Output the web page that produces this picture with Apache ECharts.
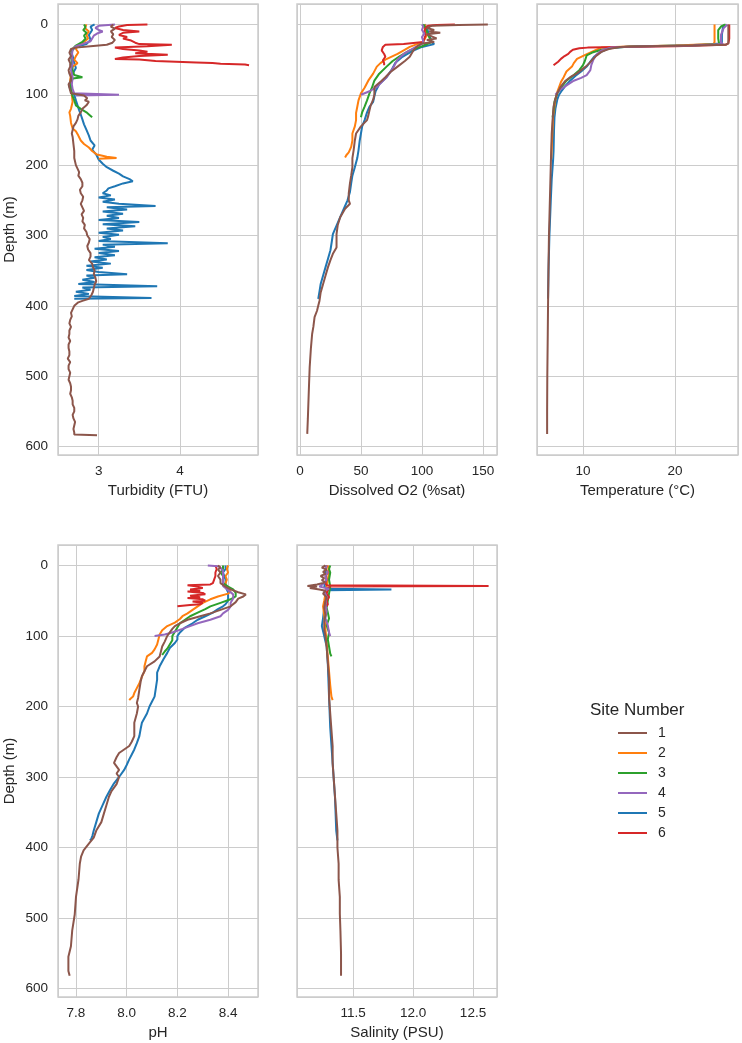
<!DOCTYPE html>
<html>
<head>
<meta charset="utf-8">
<script src="https://cdn.jsdelivr.net/npm/echarts@6/dist/echarts.min.js"></script>
<style>
  html, body { margin: 0; padding: 0; background: #ffffff; }
  #chart { width: 742px; height: 1043px; }
</style>
</head>
<body>
<div id="chart"></div>
<script>
// ---------- DATA: [depth (m), value] ----------
const sites = ['1', '2', '3', '4', '5', '6'];
const depthTicks = [0, 100, 200, 300, 400, 500, 600];

// Turbidity (FTU)
const turb1 = [[0,3.18],[3,3.15],[6,3.2],[10,3.15],[14,3.18],[18,3.16],[22,3.2],[26,3.17],[29,3.1],[31,2.9],[33,2.72],[35,2.66],[40,2.64],[45,2.66],[50,2.63],[55,2.65],[60,2.65],[65,2.63],[70,2.64],[75,2.66],[80,2.66],[85,2.63],[90,2.64],[98,2.66],[101,2.82],[105,2.86],[108,2.83],[110,2.88],[115,2.85],[120,2.8],[125,2.78],[130,2.75],[135,2.74],[140,2.72],[145,2.69],[150,2.68],[155,2.67],[160,2.68],[170,2.69],[180,2.7],[190,2.7],[200,2.72],[205,2.74],[210,2.76],[215,2.75],[220,2.78],[225,2.8],[230,2.8],[235,2.77],[240,2.78],[245,2.81],[250,2.8],[255,2.78],[260,2.8],[265,2.82],[270,2.79],[275,2.81],[280,2.8],[285,2.83],[290,2.82],[295,2.85],[300,2.86],[305,2.89],[310,2.88],[315,2.86],[320,2.87],[325,2.9],[330,2.9],[335,2.88],[340,2.92],[345,2.93],[350,2.95],[355,2.94],[360,2.96],[365,2.97],[370,2.95],[375,2.94],[380,2.93],[385,2.91],[390,2.88],[393,2.8],[395,2.75],[400,2.7],[405,2.68],[410,2.66],[415,2.67],[420,2.65],[425,2.64],[430,2.66],[435,2.64],[440,2.64],[445,2.63],[450,2.65],[455,2.63],[460,2.63],[465,2.64],[470,2.64],[475,2.62],[480,2.65],[485,2.63],[490,2.63],[495,2.65],[500,2.64],[505,2.63],[510,2.65],[515,2.66],[520,2.66],[525,2.65],[530,2.67],[535,2.68],[540,2.68],[545,2.7],[550,2.7],[555,2.68],[560,2.69],[565,2.71],[570,2.7],[575,2.69],[580,2.7],[583,2.7],[584,2.98]];
const turb2 = [[0,2.85],[5,2.83],[10,2.88],[15,2.85],[20,2.87],[25,2.82],[30,2.75],[35,2.72],[40,2.75],[45,2.72],[50,2.7],[55,2.74],[60,2.68],[70,2.66],[80,2.65],[90,2.66],[100,2.67],[110,2.68],[120,2.66],[125,2.64],[130,2.65],[140,2.66],[148,2.68],[152,2.72],[158,2.75],[165,2.78],[170,2.82],[175,2.88],[180,2.92],[185,2.98],[188,3.1],[190,3.22],[191,3.0]];
const turb3 = [[0,2.82],[4,2.84],[8,2.81],[12,2.85],[16,2.82],[20,2.84],[25,2.8],[30,2.72],[35,2.68],[45,2.66],[55,2.67],[65,2.68],[72,2.7],[75,2.8],[77,2.68],[85,2.66],[95,2.66],[102,2.68],[108,2.7],[115,2.72],[120,2.78],[125,2.85],[128,2.88],[132,2.92]];
const turb4 = [[0,3.2],[2,3.0],[5,2.96],[8,3.0],[10,3.05],[13,2.98],[16,2.94],[20,2.92],[24,2.9],[28,2.8],[31,2.72],[35,2.68],[45,2.67],[55,2.68],[65,2.66],[75,2.68],[85,2.67],[92,2.68],[98,2.7],[100,3.25],[101,2.72]];
const turb5 = [[0,2.95],[3,2.9],[8,2.92],[15,2.88],[22,2.9],[28,2.85],[32,2.72],[38,2.66],[45,2.68],[55,2.7],[62,2.72],[70,2.68],[80,2.65],[88,2.64],[95,2.66],[100,2.7],[108,2.72],[115,2.74],[122,2.76],[128,2.78],[135,2.8],[142,2.82],[150,2.85],[158,2.88],[165,2.9],[172,2.95],[178,2.92],[185,2.97],[192,3.0],[198,3.05],[203,3.1],[208,3.18],[212,3.25],[216,3.3],[220,3.38],[223,3.42],[226,3.3],[230,3.2],[233,3.12],[236,3.1],[240,3.05],[243,3.15],[246,3.0],[249,3.2],[252,3.05],[255,3.25],[258,3.7],[260,3.1],[263,3.35],[266,3.05],[269,3.3],[272,3.1],[275,3.25],[278,3.0],[281,3.5],[284,3.05],[287,3.45],[290,3.1],[293,3.3],[296,3.0],[299,3.25],[302,3.05],[305,3.15],[308,3.0],[311,3.85],[313,3.05],[316,3.2],[319,2.95],[322,3.25],[325,3.0],[328,3.2],[331,2.95],[334,3.1],[337,2.9],[340,3.15],[343,2.85],[346,3.05],[349,2.85],[352,3.0],[355,3.35],[357,2.85],[360,2.95],[363,2.8],[366,2.95],[369,2.75],[372,3.72],[374,2.8],[377,2.9],[380,2.72],[383,2.88],[386,2.7],[389,3.65],[390,2.7]];
const turb6 = [[0,3.6],[1,3.35],[3,3.25],[5,3.2],[8,3.3],[10,3.5],[12,3.3],[15,3.25],[18,3.35],[20,3.3],[23,3.4],[26,3.45],[28,3.5],[29,3.9],[31,3.6],[33,3.2],[35,3.3],[37,3.5],[39,3.6],[41,3.45],[43,3.85],[45,3.5],[47,3.3],[49,3.2],[50,3.5],[52,3.7],[54,4.2],[55,4.4],[56,4.5],[57,4.8],[58,4.85]];

// Dissolved O2 (%sat)
const oxy1 = [[0,154],[1,130],[2,108],[5,104],[8,110],[10,106],[12,115],[14,104],[17,108],[20,112],[22,104],[25,110],[27,100],[30,97],[35,94],[40,92],[46,90],[52,86],[60,80],[68,74],[75,70],[80,67],[89,61],[100,61],[107,60],[115,58],[122,57],[130,56],[136,55],[145,50],[155,46],[165,45],[179,44],[190,43],[203,43],[215,42],[226,41],[240,40],[250,40],[255,41],[262,37],[274,33],[285,31],[298,30],[310,30],[317,30],[326,27],[335,25],[345,23],[357,21],[369,19],[381,17],[393,16],[400,15],[407,14],[416,12],[430,11],[440,10],[460,9],[487,8],[510,7.5],[535,7],[560,6.5],[582,6]];
const oxy2 = [[0,103],[5,102],[15,104],[25,101],[28,96],[32,90],[38,84],[42,80],[50,70],[55,66],[60,63],[70,60],[80,56],[90,53],[98,50],[108,48],[117,47],[126,46],[136,46],[145,45],[155,43],[165,43],[174,42],[182,40],[186,38],[189,37]];
const oxy3 = [[0,101],[5,103],[15,105],[25,108],[27,109],[31,100],[37,90],[45,82],[52,76],[60,71],[70,65],[80,61],[90,59],[98,57],[108,55],[117,53],[125,51],[132,50]];
const oxy4 = [[0,100],[3,101],[8,100],[13,102],[18,100],[23,101],[27,101],[32,95],[37,90],[42,85],[50,80],[60,77],[68,74],[75,71],[82,67],[89,63],[95,57],[100,50]];
const oxy5 = [[0,102],[5,104],[15,106],[25,108],[28,110],[32,100],[38,92],[46,84],[55,78],[65,75],[75,71],[85,65],[95,62],[102,61],[110,60],[117,57],[125,55],[136,53],[145,51],[155,50],[165,49],[179,48],[190,47],[203,45],[215,43],[226,42],[238,41],[250,39],[262,36],[274,33],[286,30],[298,27],[310,26],[321,25],[333,23],[345,21],[357,19],[369,17],[380,16],[390,15]];
const oxy6 = [[0,127],[1,112],[2,105],[5,103],[10,102],[15,103],[20,102],[25,101],[27,100],[28,85],[29,70],[32,68],[37,67],[42,69],[46,70],[51,68],[55,69],[58,69]];

// Temperature (°C)
const temp1 = [[0,25.8],[10,25.8],[20,25.8],[27,25.8],[29,25.5],[30,22],[31,17],[32,14],[35,12.8],[39,12],[44,11.5],[49,11.1],[55,10.7],[60,10.3],[65,9.8],[70,9.3],[75,8.6],[80,8.1],[88,7.6],[98,7.2],[108,6.95],[117,6.8],[135,6.7],[155,6.6],[200,6.5],[250,6.4],[300,6.3],[345,6.25],[400,6.2],[440,6.17],[500,6.12],[550,6.1],[582,6.1]];
const temp2 = [[0,24.3],[5,24.3],[15,24.3],[25,24.3],[28,24.2],[30,20],[31.5,15],[33,12],[37,11.3],[43,10.3],[49,9.35],[55,9.0],[60,8.8],[67,8.2],[75,7.9],[82,7.6],[89,7.4],[98,7.15],[107,7.0],[131,6.75],[160,6.65],[191,6.55]];
const temp3 = [[0,25.5],[3,25.0],[8,24.7],[20,24.7],[28,24.8],[30,22],[31,16],[33,13.5],[36,12],[40,11],[44,10.4],[52,10.2],[58,10.0],[65,9.6],[72,9.0],[80,8.2],[90,7.6],[98,7.2],[110,6.9],[132,6.7]];
const temp4 = [[0,25.7],[5,25.3],[15,25.0],[25,25.0],[28,25.2],[30,22],[31.5,16],[33,13],[37,12],[44,11.4],[51,11.1],[58,10.9],[65,10.8],[72,10.4],[76,9.8],[80,9.0],[86,8.3],[92,7.6],[97,7.2],[100,7.0]];
const temp5 = [[0,25.4],[5,25.2],[15,25.1],[27,25.1],[29,24.9],[30,21],[31.5,15],[34,12.8],[40,11.8],[46,11.2],[53,10.8],[60,10.4],[67,9.8],[73,9.2],[80,8.6],[87,8.1],[94,7.7],[100,7.4],[107,7.2],[120,7.0],[132,6.9],[150,6.85],[180,6.8],[193,6.75],[220,6.6],[250,6.5],[300,6.35],[350,6.25],[390,6.2]];
const temp6 = [[0,25.9],[10,25.9],[20,25.9],[27,25.8],[29,25.5],[31,20],[32,14],[33,10.5],[34,9.6],[36,8.9],[39,8.6],[42,8.4],[45,8.0],[49,7.6],[53,7.3],[57,6.9],[58,6.8]];

// pH
const ph1 = [[0,8.36],[3,8.37],[6,8.36],[10,8.37],[15,8.36],[20,8.37],[25,8.37],[30,8.39],[34,8.41],[38,8.44],[41,8.47],[44,8.46],[47,8.44],[52,8.43],[58,8.41],[63,8.37],[68,8.33],[72,8.29],[77,8.24],[82,8.21],[86,8.19],[90,8.18],[95,8.17],[100,8.16],[108,8.15],[115,8.14],[122,8.135],[129,8.13],[136,8.11],[143,8.08],[150,8.07],[157,8.06],[165,8.055],[176,8.05],[188,8.045],[195,8.04],[200,8.045],[210,8.04],[223,8.03],[233,8.03],[242,8.03],[250,8.02],[256,8.01],[261,7.99],[266,7.97],[272,7.96],[280,7.95],[285,7.96],[290,7.97],[295,7.96],[300,7.97],[310,7.96],[320,7.94],[328,7.93],[340,7.92],[352,7.91],[364,7.9],[376,7.88],[386,7.87],[395,7.85],[404,7.83],[413,7.82],[423,7.815],[445,7.81],[470,7.8],[495,7.795],[518,7.785],[540,7.78],[555,7.77],[565,7.77],[575,7.77],[582,7.775]];
const ph2 = [[0,8.4],[5,8.395],[10,8.4],[15,8.39],[20,8.395],[25,8.39],[30,8.39],[34,8.4],[37,8.41],[40,8.4],[44,8.36],[48,8.33],[53,8.3],[58,8.28],[63,8.26],[68,8.24],[72,8.22],[76,8.21],[81,8.19],[86,8.16],[92,8.14],[98,8.13],[105,8.125],[112,8.12],[119,8.11],[124,8.1],[129,8.08],[136,8.075],[143,8.07],[150,8.07],[158,8.06],[167,8.05],[174,8.04],[181,8.03],[186,8.025],[189,8.015],[191,8.01]];
const ph3 = [[0,8.38],[5,8.38],[10,8.37],[15,8.38],[20,8.38],[25,8.38],[30,8.4],[34,8.42],[39,8.43],[44,8.43],[48,8.41],[53,8.37],[58,8.33],[62,8.31],[67,8.28],[72,8.25],[77,8.23],[82,8.21],[88,8.2],[94,8.19],[100,8.18],[106,8.18],[112,8.17],[118,8.16],[122,8.15],[127,8.14]];
const ph4 = [[0,8.32],[1,8.36],[3,8.37],[8,8.38],[15,8.38],[22,8.38],[29,8.38],[35,8.4],[41,8.42],[47,8.42],[53,8.41],[58,8.41],[63,8.4],[68,8.38],[72,8.37],[77,8.33],[82,8.28],[86,8.25],[90,8.22],[95,8.18],[98,8.15],[100,8.11]];
const ph5 = [[0,8.39],[5,8.39],[10,8.38],[20,8.39],[30,8.39],[38,8.4],[44,8.4],[50,8.4],[55,8.39],[58,8.38],[62,8.36],[67,8.34],[72,8.31],[77,8.28],[82,8.26],[88,8.23],[95,8.21],[100,8.2],[105,8.2],[110,8.19],[117,8.17],[124,8.16],[133,8.145],[143,8.13],[152,8.12],[162,8.12],[174,8.115],[186,8.11],[193,8.1],[200,8.09],[210,8.08],[223,8.06],[232,8.055],[242,8.05],[252,8.04],[261,8.03],[268,8.02],[275,8.01],[283,8.0],[290,7.99],[300,7.97],[309,7.95],[318,7.935],[328,7.92],[340,7.905],[352,7.89],[364,7.88],[376,7.87],[383,7.865],[388,7.86],[390,7.855]];
const ph6 = [[0,8.35],[5,8.355],[10,8.35],[15,8.35],[20,8.345],[25,8.34],[27,8.33],[28,8.24],[30,8.28],[32,8.3],[34,8.25],[36,8.29],[37,8.24],[39,8.3],[41,8.31],[43,8.25],[45,8.29],[46,8.24],[48,8.3],[50,8.31],[51,8.26],[53,8.3],[55,8.29],[56,8.25],[57,8.22],[58,8.2]];

// Salinity (PSU)
const sal1 = [[0,11.27],[3,11.24],[6,11.28],[9,11.25],[12,11.27],[15,11.23],[18,11.26],[21,11.24],[24,11.27],[27,11.2],[29,11.12],[30,11.2],[32,11.14],[34,11.22],[36,11.27],[40,11.25],[45,11.28],[50,11.27],[60,11.26],[70,11.27],[80,11.26],[91,11.26],[100,11.27],[115,11.28],[138,11.29],[160,11.3],[186,11.3],[210,11.31],[233,11.32],[256,11.33],[280,11.33],[304,11.34],[328,11.35],[352,11.36],[376,11.37],[400,11.37],[423,11.38],[446,11.38],[470,11.39],[494,11.39],[518,11.395],[550,11.4],[582,11.4]];
const sal2 = [[0,11.29],[10,11.3],[20,11.29],[30,11.28],[40,11.27],[50,11.26],[58,11.25],[70,11.26],[90,11.27],[110,11.28],[130,11.29],[150,11.3],[170,11.31],[186,11.32],[191,11.33]];
const sal3 = [[0,11.31],[5,11.3],[10,11.31],[20,11.3],[30,11.31],[40,11.3],[50,11.29],[60,11.28],[67,11.29],[75,11.3],[85,11.28],[95,11.3],[105,11.29],[115,11.3],[125,11.31],[129,11.32]];
const sal4 = [[0,11.28],[5,11.27],[10,11.29],[15,11.27],[20,11.28],[25,11.26],[30,11.22],[33,11.3],[36,11.26],[45,11.28],[55,11.27],[65,11.28],[75,11.27],[85,11.29],[95,11.3],[100,11.31]];
const sal5 = [[0,11.28],[10,11.27],[20,11.28],[30,11.26],[33,11.3],[34,11.82],[35,11.28],[45,11.27],[60,11.26],[75,11.25],[86,11.24],[100,11.26],[115,11.28],[140,11.29],[186,11.3],[230,11.31],[280,11.33],[330,11.35],[376,11.36],[390,11.37]];
const sal6 = [[0,11.28],[5,11.27],[10,11.29],[15,11.27],[20,11.28],[25,11.27],[28,11.28],[29,12.63],[30,11.3],[35,11.29],[40,11.28],[45,11.3],[50,11.28],[55,11.29],[58,11.28]];

// ---------- CHART ----------
const siteColors = { '1': '#8c564b', '2': '#ff7f0e', '3': '#2ca02c', '4': '#9467bd', '5': '#1f77b4', '6': '#d62728' };
const drawOrder = ['5', '2', '3', '6', '4', '1'];
const FONT = '"Liberation Sans", Arial, sans-serif';
const TXT = '#262626';

const panels = [
  { name: 'Turbidity (FTU)', data: { '1': turb1, '2': turb2, '3': turb3, '4': turb4, '5': turb5, '6': turb6 }, min: 2.5, max: 4.96, step: 1, dec: 0, grid: { left: 58, top: 4, width: 200, height: 451 }, yLabels: true },
  { name: 'Dissolved O2 (%sat)', data: { '1': oxy1, '2': oxy2, '3': oxy3, '4': oxy4, '5': oxy5, '6': oxy6 }, min: -2.4, max: 161.5, step: 50, dec: 0, grid: { left: 297, top: 4, width: 200, height: 451 }, yLabels: false },
  { name: 'Temperature (°C)', data: { '1': temp1, '2': temp2, '3': temp3, '4': temp4, '5': temp5, '6': temp6 }, min: 5.0, max: 26.85, step: 10, dec: 0, grid: { left: 537, top: 4, width: 201, height: 451 }, yLabels: false },
  { name: 'pH', data: { '1': ph1, '2': ph2, '3': ph3, '4': ph4, '5': ph5, '6': ph6 }, min: 7.729, max: 8.518, step: 0.2, dec: 1, grid: { left: 58, top: 545, width: 200, height: 452 }, yLabels: true },
  { name: 'Salinity (PSU)', data: { '1': sal1, '2': sal2, '3': sal3, '4': sal4, '5': sal5, '6': sal6 }, min: 11.033, max: 12.70, step: 0.5, dec: 1, grid: { left: 297, top: 545, width: 200, height: 452 }, yLabels: false }
];

const grids = [], xAxes = [], yAxes = [], series = [];
panels.forEach((p, i) => {
  grids.push(Object.assign({ show: true, borderColor: '#cccccc', borderWidth: 1.5, backgroundColor: 'transparent' }, p.grid));
  xAxes.push({
    type: 'value', gridIndex: i, min: p.min, max: p.max,
    minInterval: p.step, maxInterval: p.step, splitNumber: 3,
    name: p.name, nameLocation: 'middle', nameGap: 28,
    nameTextStyle: { color: TXT, fontSize: 15, fontFamily: FONT },
    axisLine: { show: false }, axisTick: { show: false },
    axisLabel: { color: TXT, fontSize: 13.5, fontFamily: FONT, margin: 9, showMinLabel: false, showMaxLabel: false,
      formatter: v => (Math.abs(v / p.step - Math.round(v / p.step)) < 1e-6 ? v.toFixed(p.dec) : '') },
    splitLine: { show: true, lineStyle: { color: '#cccccc', width: 1 } }
  });
  yAxes.push({
    type: 'value', gridIndex: i, inverse: true, min: -29, max: 612,
    minInterval: 100, maxInterval: 100, splitNumber: 6,
    name: p.yLabels ? 'Depth (m)' : '', nameLocation: 'middle', nameGap: 41,
    nameTextStyle: { color: TXT, fontSize: 15, fontFamily: FONT },
    axisLine: { show: false }, axisTick: { show: false },
    axisLabel: { show: p.yLabels, color: TXT, fontSize: 13.5, fontFamily: FONT, margin: 10, showMinLabel: false, showMaxLabel: false,
      formatter: v => (depthTicks.indexOf(v) >= 0 ? String(v) : '') },
    splitLine: { show: true, lineStyle: { color: '#cccccc', width: 1 } }
  });
  drawOrder.forEach(s => {
    series.push({
      type: 'line', name: s, xAxisIndex: i, yAxisIndex: i,
      data: p.data[s].map(d => [d[1], d[0]]),
      showSymbol: false, symbol: 'none', clip: true,
      lineStyle: { color: siteColors[s], width: 2 },
      itemStyle: { color: siteColors[s] },
      emphasis: { disabled: true }
    });
  });
});

const chart = echarts.init(document.getElementById('chart'), null, { renderer: 'canvas' });
chart.setOption({
  animation: false,
  backgroundColor: '#ffffff',
  grid: grids, xAxis: xAxes, yAxis: yAxes, series: series,
  legend: {
    data: sites.map(s => ({ name: s, icon: 'rect', itemStyle: { color: siteColors[s] } })),
    orient: 'vertical', left: 613, top: 721,
    itemWidth: 29, itemHeight: 2, itemGap: 6,
    textStyle: { color: TXT, fontSize: 14, fontFamily: FONT, lineHeight: 14, padding: [0, 0, 0, 6] },
    selectedMode: false
  },
  graphic: [{
    type: 'text', left: 590, top: 702,
    style: { text: 'Site Number', fill: TXT, font: '17px "Liberation Sans", Arial, sans-serif' }
  }]
});
</script>
</body>
</html>
